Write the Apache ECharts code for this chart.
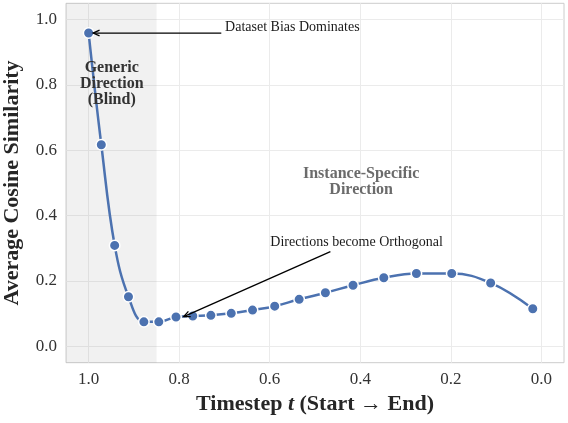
<!DOCTYPE html>
<html>
<head>
<meta charset="utf-8">
<script src="https://cdn.jsdelivr.net/npm/echarts@6/dist/echarts.min.js"></script>
<style>html,body{margin:0;padding:0;background:#fff}#c{width:568px;height:423px}</style>
</head>
<body>
<div id="c"></div>
<script>
const timesteps = [1.0, 0.972, 0.9425, 0.912, 0.878, 0.845, 0.807, 0.770, 0.730, 0.685, 0.638, 0.589, 0.535, 0.477, 0.416, 0.348, 0.276, 0.198, 0.112, 0.019];
const similarity = [0.959, 0.617, 0.309, 0.152, 0.075, 0.075, 0.090, 0.093, 0.095, 0.101, 0.111, 0.123, 0.144, 0.164, 0.187, 0.210, 0.223, 0.223, 0.194, 0.115];
const xTicks = [0.0, 0.2, 0.4, 0.6, 0.8, 1.0];
const yTicks = [0.0, 0.2, 0.4, 0.6, 0.8, 1.0];
const genericRegion = [0.85, 1.05];
// annotation arrows: [from (t, y), to (t, y)]
const arrows = [
  [[0.707, 0.959], [0.99, 0.959]],
  [[0.466, 0.29], [0.79, 0.091]]
];

const FONT = "'Liberation Serif', 'Times New Roman', serif";
const chart = echarts.init(document.getElementById('c'), null, {renderer: 'canvas'});
const data = timesteps.map((t, i) => [t, similarity[i]]);

chart.setOption({
  animation: false,
  backgroundColor: '#ffffff',
  grid: {left: 66, right: 4, top: 3.3, bottom: 60.3, show: true, borderColor: '#cccccc', borderWidth: 1, containLabel: false, outerBoundsMode: 'none'},
  xAxis: {
    type: 'value', inverse: true, min: -0.05, max: 1.05,
    name: '{b|Timestep }{i|t}{b| (Start \u2192 End)}',
    nameLocation: 'middle', nameGap: 31,
    nameTextStyle: {
      rich: {
        b: {fontFamily: FONT, fontSize: 22, fontWeight: 'bold', color: '#262626'},
        i: {fontFamily: FONT, fontSize: 22, fontWeight: 'bold', fontStyle: 'italic', color: '#262626'}
      }
    },
    axisLine: {show: false}, axisTick: {show: false, customValues: xTicks},
    axisLabel: {customValues: xTicks, formatter: v => v.toFixed(1), fontFamily: FONT, fontSize: 17, color: '#333333', margin: 8},
    splitLine: {show: true, lineStyle: {color: '#ebebeb', width: 1}}
  },
  yAxis: {
    type: 'value', min: -0.05, max: 1.05,
    name: 'Average Cosine Similarity', nameLocation: 'middle', nameGap: 43,
    nameTextStyle: {fontFamily: FONT, fontSize: 22, fontWeight: 'bold', color: '#262626'},
    axisLine: {show: false}, axisTick: {show: false, customValues: yTicks},
    axisLabel: {customValues: yTicks, formatter: v => v.toFixed(1), fontFamily: FONT, fontSize: 17, color: '#333333', margin: 9},
    splitLine: {show: true, lineStyle: {color: '#ebebeb', width: 1}}
  },
  series: [{
    type: 'line', data: data, smooth: 0.4,
    symbol: 'circle', symbolSize: 10.5,
    lineStyle: {color: '#4C72B0', width: 2.5},
    itemStyle: {color: '#4C72B0', borderColor: '#ffffff', borderWidth: 1.5},
    silent: true, z: 3,
    markArea: {
      silent: true,
      itemStyle: {color: 'rgba(128,128,128,0.11)'},
      data: [[{xAxis: genericRegion[0]}, {xAxis: genericRegion[1]}]]
    },
    markPoint: {
      silent: true, symbol: 'circle', symbolSize: 0,
      data: [
        {coord: [0.55, 0.975], label: {show: true, position: 'inside', formatter: 'Dataset Bias Dominates', fontFamily: FONT, fontSize: 14, color: '#1a1a1a'}},
        {coord: [0.408, 0.317], label: {show: true, position: 'inside', formatter: 'Directions become Orthogonal', fontFamily: FONT, fontSize: 14, color: '#1a1a1a'}},
        {coord: [0.949, 0.804], label: {show: true, position: 'inside', formatter: 'Generic\nDirection\n(Blind)', fontFamily: FONT, fontSize: 16, fontWeight: 'bold', lineHeight: 16, color: '#333333', align: 'center'}},
        {coord: [0.398, 0.505], label: {show: true, position: 'inside', formatter: 'Instance-Specific\nDirection', fontFamily: FONT, fontSize: 16, fontWeight: 'bold', lineHeight: 16, color: '#6b6b6b', align: 'center'}}
      ]
    }
  }]
});

function drawArrows() {
  const elems = [];
  arrows.forEach(a => {
    const p0 = chart.convertToPixel({gridIndex: 0}, a[0]);
    const p1 = chart.convertToPixel({gridIndex: 0}, a[1]);
    const ang = Math.atan2(p1[1] - p0[1], p1[0] - p0[0]);
    const L = 7, spread = 0.42;
    const h1 = [p1[0] - L * Math.cos(ang - spread), p1[1] - L * Math.sin(ang - spread)];
    const h2 = [p1[0] - L * Math.cos(ang + spread), p1[1] - L * Math.sin(ang + spread)];
    elems.push({type: 'line', silent: true, z: 20, shape: {x1: p0[0], y1: p0[1], x2: p1[0], y2: p1[1]}, style: {stroke: '#000', lineWidth: 1.3}});
    elems.push({type: 'polyline', silent: true, z: 20, shape: {points: [h1, p1, h2]}, style: {stroke: '#000', lineWidth: 1.3, fill: null}});
  });
  chart.setOption({graphic: elems});
}
drawArrows();
</script>
</body>
</html>
